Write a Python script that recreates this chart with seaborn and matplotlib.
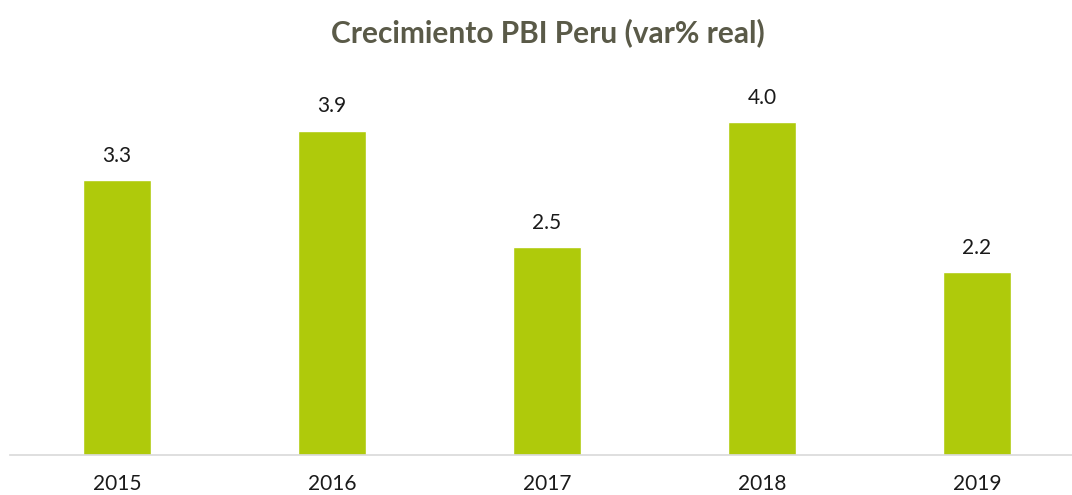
import pandas as pd
import matplotlib
matplotlib.use('Agg')
import matplotlib.pyplot as plt
import seaborn as sns

sns.set_style('white')
plt.rcParams['font.family'] = ['Lato', 'DejaVu Sans']

BAR_COLOR   = '#AFCA0B'
TITLE_COLOR = '#5A5A48'
AXIS_COLOR  = '#D9D9D9'

years  = ['2015', '2016', '2017', '2018', '2019']
growth = [3.3, 3.9, 2.5, 4.0, 2.2]

df = pd.DataFrame({'year': years, 'growth': growth})

fig = plt.figure(figsize=(10.72, 4.95), dpi=100)
ax = fig.add_axes([10 / 1072, 40 / 495, 1 - 10 / 1072, 374.4 / 495])

sns.barplot(data=df, x='year', y='growth', color=BAR_COLOR, width=0.316,
            saturation=1, ax=ax)

# value labels over each bar
for i, v in enumerate(growth):
    ax.annotate(f'{v:.1f}', (i, v), xytext=(0, 13), textcoords='offset points',
                ha='center', va='baseline', fontsize=15, color='#1a1a1a')

ax.set_xlim(-0.498, 4.442)
ax.set_ylim(0, 4.5)
ax.set_xlabel('')
ax.set_ylabel('')
ax.set_yticks([])
ax.tick_params(axis='x', length=0, pad=14, labelsize=15, labelcolor='#1a1a1a')
for s in ['top', 'right', 'left']:
    ax.spines[s].set_visible(False)
ax.spines['bottom'].set_color(AXIS_COLOR)
ax.spines['bottom'].set_linewidth(1.2)

fig.text(0.511, 1 - 42 / 495, 'Crecimiento PBI Peru (var% real)',
         ha='center', va='baseline', fontsize=21.5, fontweight='bold',
         color=TITLE_COLOR)

fig.savefig('out.png', dpi=100)
